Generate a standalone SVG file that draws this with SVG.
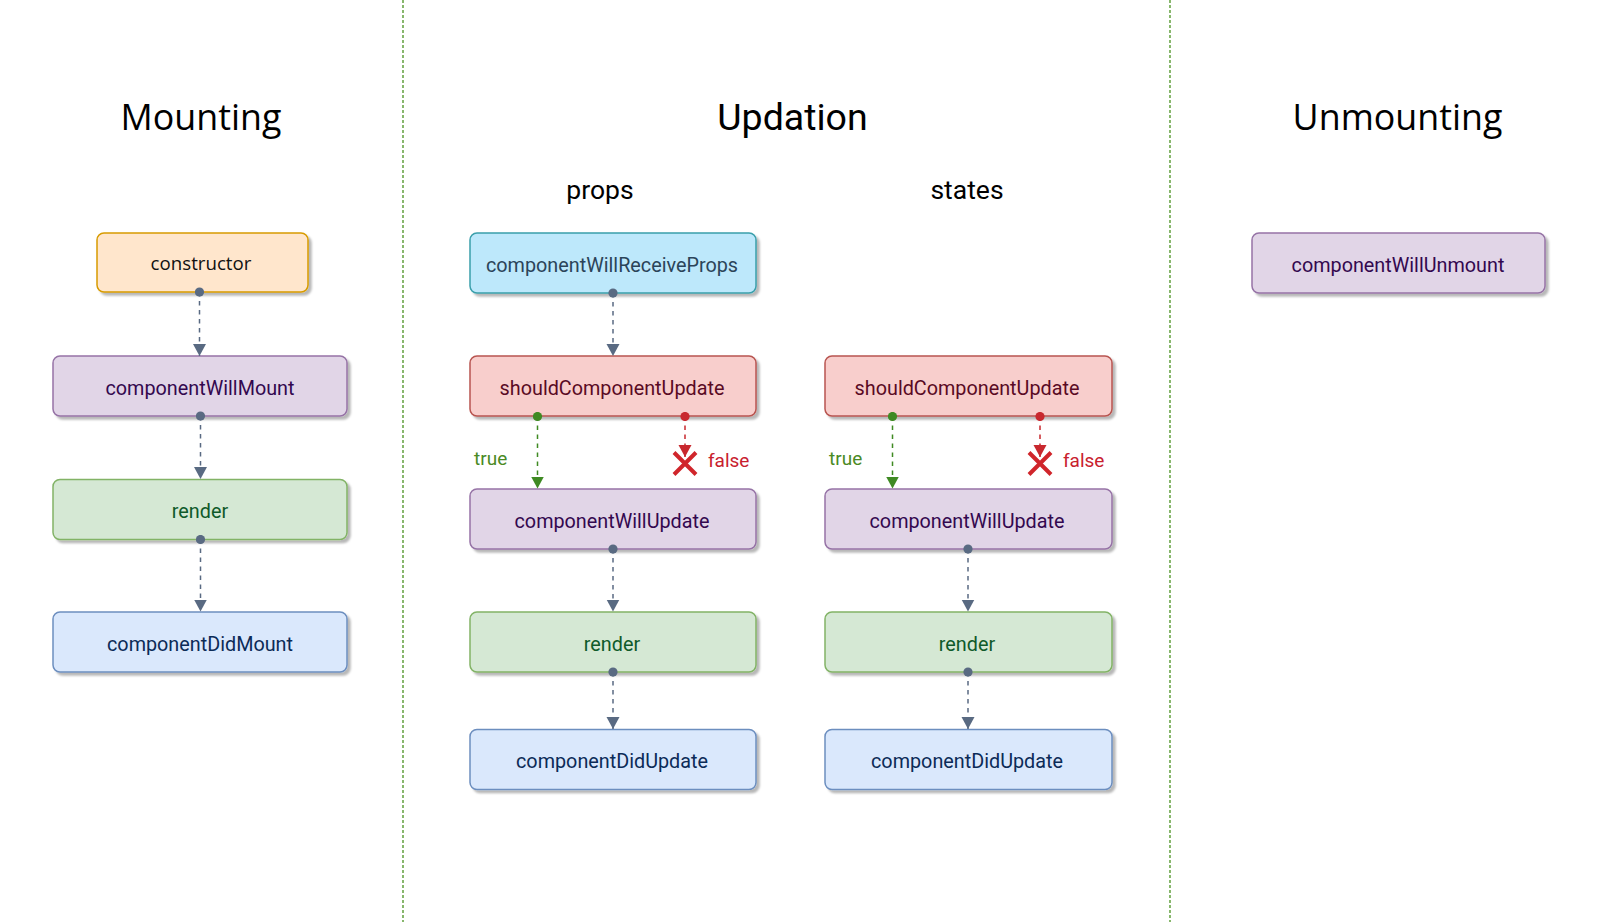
<svg xmlns="http://www.w3.org/2000/svg" width="1600" height="922" viewBox="0 0 1600 922">
  <style>
    .box { stroke-width: 1.5; filter: url(#shadow); }
    .orange { fill: #ffe6cc; stroke: #d79b00; }
    .purple { fill: #e1d5e7; stroke: #9673a6; }
    .green  { fill: #d5e8d4; stroke: #82b366; }
    .blue   { fill: #dae8fc; stroke: #6c8ebf; }
    .red    { fill: #f8cecc; stroke: #b85450; }
    .cyan   { fill: #bde8fb; stroke: #3a9fab; }
    .label { font-family: Roboto, "Liberation Sans", sans-serif; font-size: 19.8px; text-anchor: middle; }
    .t-purple { fill: #33084f; }
    .t-green  { fill: #0f5a2a; }
    .t-blue   { fill: #0c2b57; }
    .t-red    { fill: #5a0a24; }
    .t-cyan   { fill: #2b4459; }
    .t-black  { fill: #111111; font-family: "Open Sans", "Noto Sans", sans-serif; font-size: 18.7px; text-anchor: middle; }
    .heading { font-family: "Open Sans", "Noto Sans", sans-serif; font-size: 35.8px; text-anchor: middle; fill: #000; }
    .heading-r { font-family: Roboto, "Liberation Sans", sans-serif; font-size: 37.5px; text-anchor: middle; fill: #000; }
    .sub { font-family: Roboto, "Liberation Sans", sans-serif; font-size: 26.5px; text-anchor: middle; fill: #000; }
    .divider { stroke: #56992f; stroke-width: 1.4; stroke-dasharray: 3 2; fill: none; }
    .edge { fill: none; stroke-width: 1.5; stroke-dasharray: 4.5 4.5; }
    .edge-grey  { stroke: #596a82; marker-start: url(#dotGrey); marker-end: url(#arrowGrey); }
    .edge-true  { stroke: #3f8a23; marker-start: url(#dotGreen); marker-end: url(#arrowGreen); }
    .edge-false { stroke: #c8282e; marker-start: url(#dotRed); marker-end: url(#arrowRed); }
    .cross { stroke: #d0252b; stroke-width: 4; fill: none; }
    .lbl-true  { font-family: Roboto, "Liberation Sans", sans-serif; font-size: 19px; fill: #4a8a24; }
    .lbl-false { font-family: Roboto, "Liberation Sans", sans-serif; font-size: 19px; fill: #c8202e; }
  </style>
  <defs>
    <filter id="shadow" x="-10%" y="-20%" width="125%" height="160%">
      <feDropShadow dx="3" dy="3" stdDeviation="1.2" flood-color="#000" flood-opacity="0.28"/>
    </filter>
    <marker id="dotGrey" markerUnits="userSpaceOnUse" markerWidth="10" markerHeight="10" viewBox="0 0 10 10" refX="5" refY="5" orient="auto">
      <circle cx="5" cy="5" r="4.6" fill="#596a82"/>
    </marker>
    <marker id="arrowGrey" markerUnits="userSpaceOnUse" markerWidth="13" markerHeight="14" viewBox="0 0 13 14" refX="12" refY="7" orient="auto">
      <path d="M0,0.5 L12,7 L0,13.5 Z" fill="#596a82"/>
    </marker>
    <marker id="dotGreen" markerUnits="userSpaceOnUse" markerWidth="10" markerHeight="10" viewBox="0 0 10 10" refX="5" refY="5" orient="auto">
      <circle cx="5" cy="5" r="4.6" fill="#3f8a23"/>
    </marker>
    <marker id="arrowGreen" markerUnits="userSpaceOnUse" markerWidth="13" markerHeight="14" viewBox="0 0 13 14" refX="12" refY="7" orient="auto">
      <path d="M0,0.5 L12,7 L0,13.5 Z" fill="#3f8a23"/>
    </marker>
    <marker id="dotRed" markerUnits="userSpaceOnUse" markerWidth="10" markerHeight="10" viewBox="0 0 10 10" refX="5" refY="5" orient="auto">
      <circle cx="5" cy="5" r="4.6" fill="#c8282e"/>
    </marker>
    <marker id="arrowRed" markerUnits="userSpaceOnUse" markerWidth="13" markerHeight="14" viewBox="0 0 13 14" refX="12" refY="7" orient="auto">
      <path d="M0,0.5 L12,7 L0,13.5 Z" fill="#c8282e"/>
    </marker>
    <path id="crossMark" class="cross" d="M-11,-11 L11,11 M11,-11 L-11,11"/>
  </defs>

  <rect width="1600" height="922" fill="#ffffff"/>

  <!-- column dividers -->
  <g id="dividers">
    <line class="divider" x1="403" y1="0" x2="403" y2="922"/>
    <line class="divider" x1="1170" y1="0" x2="1170" y2="922"/>
  </g>

  <!-- section titles -->
  <g id="titles">
    <text class="heading" x="201" y="129.5">Mounting</text>
    <text class="heading-r" x="792.5" y="130">Updation</text>
    <text class="heading" x="1397.5" y="129.5">Unmounting</text>
    <text class="sub" x="600" y="198.5">props</text>
    <text class="sub" x="967" y="198.5">states</text>
  </g>

  <!-- mounting nodes -->
  <g id="m-constructor">
    <rect class="box orange" x="97" y="233" width="211" height="59" rx="7"/>
    <text class="t-black" x="201" y="269.5">constructor</text>
  </g>
  <g id="m-componentWillMount">
    <rect class="box purple" x="53" y="356" width="294" height="60" rx="7"/>
    <text class="label t-purple" x="200" y="394.5">componentWillMount</text>
  </g>
  <g id="m-render">
    <rect class="box green" x="53" y="479.5" width="294" height="60" rx="7"/>
    <text class="label t-green" x="200" y="518">render</text>
  </g>
  <g id="m-componentDidMount">
    <rect class="box blue" x="53" y="612" width="294" height="60" rx="7"/>
    <text class="label t-blue" x="200" y="650.5">componentDidMount</text>
  </g>

  <!-- updation: props -->
  <g id="p-componentWillReceiveProps">
    <rect class="box cyan" x="470" y="233" width="286" height="60" rx="7"/>
    <text class="label t-cyan" x="612" y="271.5">componentWillReceiveProps</text>
  </g>
  <g id="p-shouldComponentUpdate">
    <rect class="box red" x="470" y="356" width="286" height="60" rx="7"/>
    <text class="label t-red" x="612" y="394.5">shouldComponentUpdate</text>
  </g>
  <g id="p-componentWillUpdate">
    <rect class="box purple" x="470" y="489" width="286" height="60" rx="7"/>
    <text class="label t-purple" x="612" y="527.5">componentWillUpdate</text>
  </g>
  <g id="p-render">
    <rect class="box green" x="470" y="612" width="286" height="60" rx="7"/>
    <text class="label t-green" x="612" y="650.5">render</text>
  </g>
  <g id="p-componentDidUpdate">
    <rect class="box blue" x="470" y="729.5" width="286" height="60" rx="7"/>
    <text class="label t-blue" x="612" y="768">componentDidUpdate</text>
  </g>

  <!-- updation: states -->
  <g id="s-shouldComponentUpdate">
    <rect class="box red" x="825" y="356" width="287" height="60" rx="7"/>
    <text class="label t-red" x="967" y="394.5">shouldComponentUpdate</text>
  </g>
  <g id="s-componentWillUpdate">
    <rect class="box purple" x="825" y="489" width="287" height="60" rx="7"/>
    <text class="label t-purple" x="967" y="527.5">componentWillUpdate</text>
  </g>
  <g id="s-render">
    <rect class="box green" x="825" y="612" width="287" height="60" rx="7"/>
    <text class="label t-green" x="967" y="650.5">render</text>
  </g>
  <g id="s-componentDidUpdate">
    <rect class="box blue" x="825" y="729.5" width="287" height="60" rx="7"/>
    <text class="label t-blue" x="967" y="768">componentDidUpdate</text>
  </g>

  <!-- unmounting -->
  <g id="u-componentWillUnmount">
    <rect class="box purple" x="1252" y="233" width="293" height="60" rx="7"/>
    <text class="label t-purple" x="1398" y="271.5">componentWillUnmount</text>
  </g>

  <!-- connectors, drawn over the node borders so the source dots stay visible -->
  <g id="connectors">
    <!-- mounting -->
    <line class="edge edge-grey" x1="199.5" y1="292" x2="199.5" y2="356"/>
    <line class="edge edge-grey" x1="200.5" y1="416" x2="200.5" y2="479"/>
    <line class="edge edge-grey" x1="200.5" y1="539.5" x2="200.5" y2="611.5"/>
    <!-- props -->
    <line class="edge edge-grey" x1="613" y1="293" x2="613" y2="356"/>
    <line class="edge edge-true" x1="537.5" y1="416.5" x2="537.5" y2="488.5"/>
    <line class="edge edge-false" x1="685" y1="416.5" x2="685" y2="457"/>
    <line class="edge edge-grey" x1="613" y1="549" x2="613" y2="611.5"/>
    <line class="edge edge-grey" x1="613" y1="672" x2="613" y2="729"/>
    <!-- states -->
    <line class="edge edge-true" x1="892.5" y1="416.5" x2="892.5" y2="488.5"/>
    <line class="edge edge-false" x1="1040" y1="416.5" x2="1040" y2="457"/>
    <line class="edge edge-grey" x1="968" y1="549" x2="968" y2="611.5"/>
    <line class="edge edge-grey" x1="968" y1="672" x2="968" y2="729"/>
    <!-- rejected branch marks -->
    <use href="#crossMark" x="685" y="463.5"/>
    <use href="#crossMark" x="1040" y="463.5"/>
    <text class="lbl-true" x="474" y="465">true</text>
    <text class="lbl-false" x="708" y="467">false</text>
    <text class="lbl-true" x="829" y="465">true</text>
    <text class="lbl-false" x="1063" y="467">false</text>
  </g>
</svg>
